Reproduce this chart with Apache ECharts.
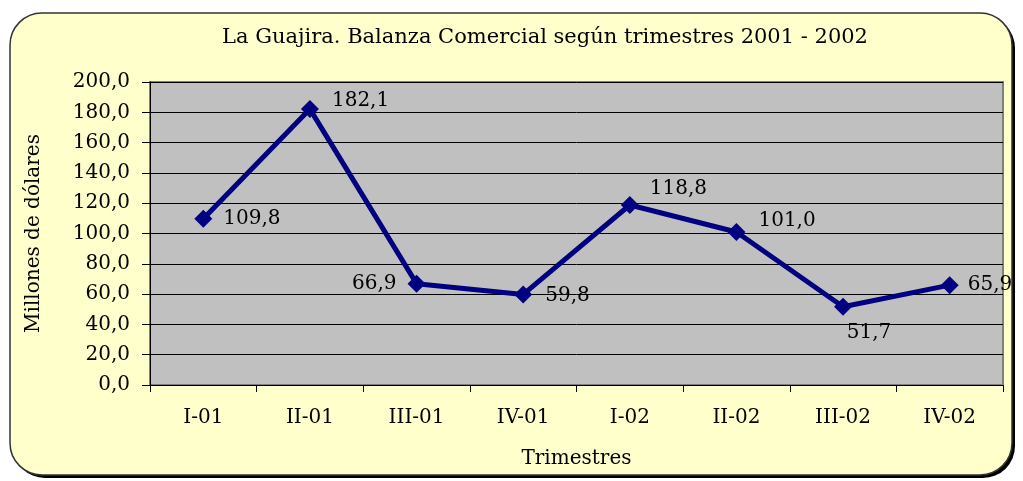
<!DOCTYPE html>
<html>
<head>
<meta charset="utf-8">
<script src="https://cdn.jsdelivr.net/npm/echarts@6/dist/echarts.min.js"></script>
<style>
  html, body { margin: 0; padding: 0; background: #fff; }
  #chart { width: 1023px; height: 481px; }
</style>
</head>
<body>
<div id="chart"></div>
<script>
const trimestres = ['I-01', 'II-01', 'III-01', 'IV-01', 'I-02', 'II-02', 'III-02', 'IV-02']
const balanza = [109.8, 182.1, 66.9, 59.8, 118.8, 101.0, 51.7, 65.9]

const fmt = v => v.toFixed(1).replace('.', ',')
const font = 'DejaVu Serif'

// where each value label sits next to its point
const labelPlace = [
    { position: 'right', offset: [6, 0] },
    { position: 'right', offset: [8, -8] },
    { position: 'left', offset: [-6, 0] },
    { position: 'right', offset: [8, 1] },
    { position: 'right', offset: [6, -16] },
    { position: 'right', offset: [8, -11] },
    { position: 'bottom', offset: [26, 2] },
    { position: 'right', offset: [4, 0] }
]

let chart = echarts.init(document.getElementById('chart'))

let option = {
    backgroundColor: '#ffffff',
    textStyle: { fontFamily: font, color: '#000' },
    graphic: [{
        // drop shadow of the frame
        type: 'rect',
        z: -11,
        silent: true,
        shape: { x: 13, y: 16, width: 1002, height: 462, r: 32 },
        style: { fill: '#000' }
    }, {
        type: 'rect',
        z: -10,
        silent: true,
        shape: { x: 10, y: 13, width: 1002, height: 462, r: 32 },
        style: { fill: '#FFFFCC', stroke: '#333', lineWidth: 1.5 }
    }],
    title: {
        text: 'La Guajira. Balanza Comercial según trimestres 2001 - 2002',
        left: 540,
        textAlign: 'center',
        top: 22,
        textStyle: { fontFamily: font, fontSize: 21, fontWeight: 'normal', color: '#000' }
    },
    grid: {
        left: 150, right: 20, top: 82, bottom: 96,
        show: true,
        backgroundColor: '#C0C0C0',
        borderColor: '#808080',
        borderWidth: 2
    },
    xAxis: {
        type: 'category',
        data: trimestres,
        boundaryGap: true,
        name: 'Trimestres',
        nameLocation: 'middle',
        nameGap: 64,
        nameTextStyle: { fontFamily: font, fontSize: 20, color: '#000' },
        axisLine: { lineStyle: { color: '#000', width: 1 } },
        axisTick: { show: true, alignWithLabel: false, length: 7, lineStyle: { color: '#000' } },
        axisLabel: { margin: 23, fontFamily: font, fontSize: 20, color: '#000' }
    },
    yAxis: {
        type: 'value',
        min: 0, max: 200, interval: 20,
        name: 'Millones de dólares',
        nameLocation: 'middle',
        nameGap: 106,
        nameTextStyle: { fontFamily: font, fontSize: 20, color: '#000' },
        axisLine: { show: true, lineStyle: { color: '#000', width: 1 } },
        axisTick: { show: true, length: 8, lineStyle: { color: '#000' } },
        axisLabel: { margin: 20, fontFamily: font, fontSize: 20, color: '#000', formatter: fmt },
        splitLine: { lineStyle: { color: '#000', width: 1 } }
    },
    series: [{
        type: 'line',
        data: balanza.map((v, i) => ({ value: v, label: labelPlace[i] })),
        symbol: 'diamond',
        symbolSize: 18,
        itemStyle: { color: '#000080' },
        lineStyle: { color: '#000080', width: 5 },
        label: {
            show: true,
            fontFamily: font,
            fontSize: 20,
            color: '#000',
            formatter: p => fmt(p.value)
        },
        animation: false
    }]
}

chart.setOption(option)
</script>
</body>
</html>
